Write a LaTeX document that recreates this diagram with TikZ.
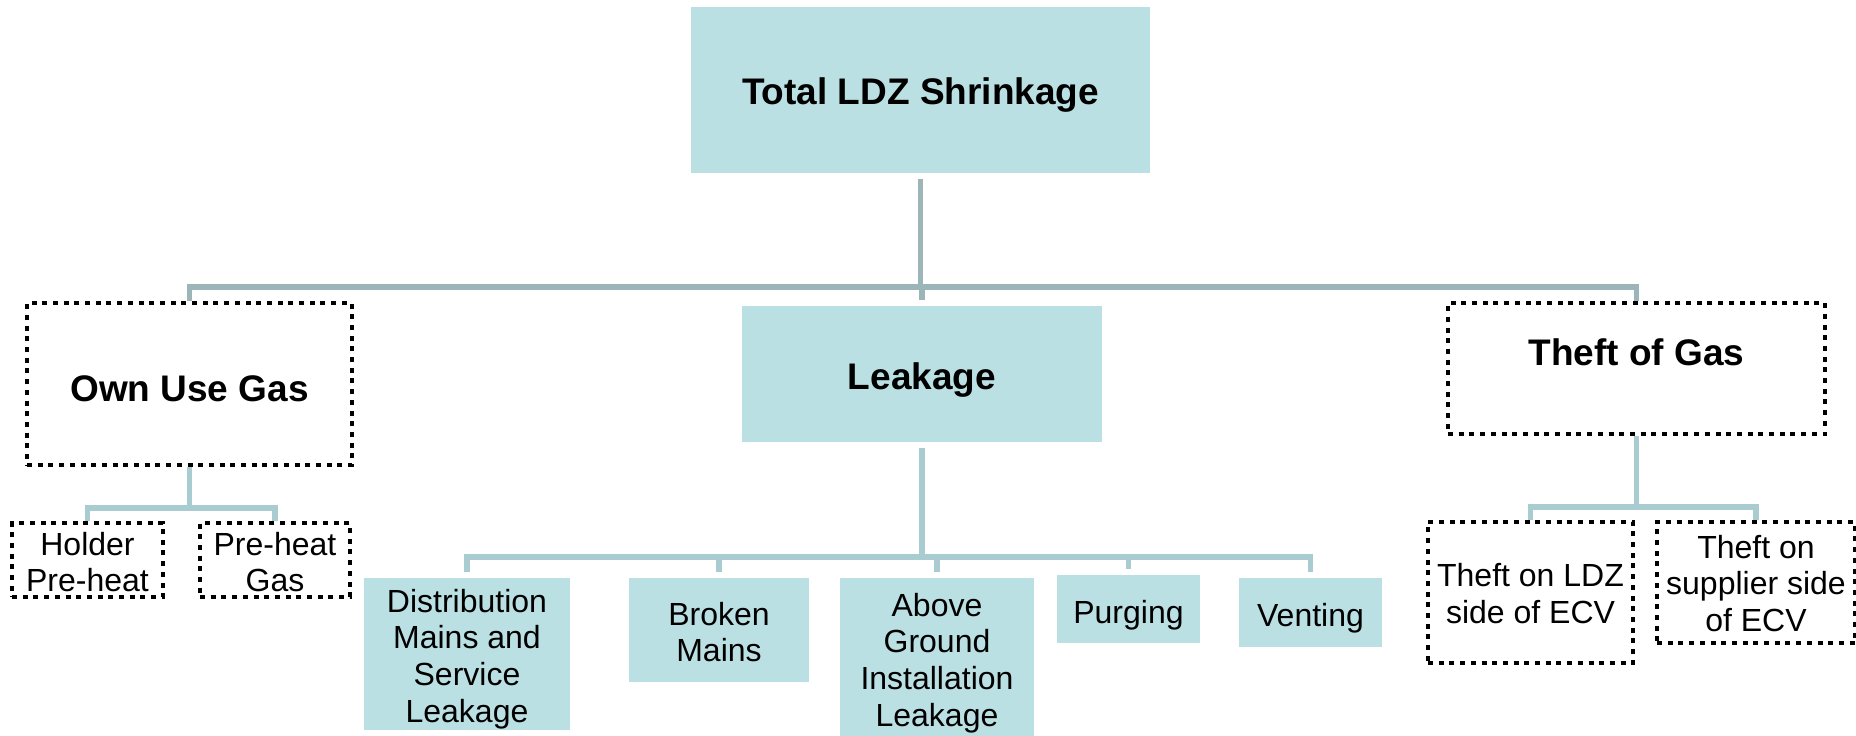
\documentclass[tikz,border=0pt]{standalone}
\usepackage{fontspec}
\setmainfont{Liberation Sans}
\definecolor{boxfill}{RGB}{187,224,227}
\definecolor{topline}{RGB}{155,181,184}
\definecolor{subline}{RGB}{168,204,207}
\tikzset{
  x=1pt, y=-1pt,
  solidbox/.style={draw=none, fill=boxfill, inner sep=0pt},
  dotbox/.style={draw=black, line width=4pt, dash pattern=on 5pt off 5.7pt, fill=white, inner sep=0pt},
  bigtext/.style={font=\fontsize{37}{42}\selectfont\bfseries, inner sep=0pt, align=center},
  smalltext/.style={font=\fontsize{32}{36.8}\selectfont, inner sep=0pt, align=center},
  conntop/.style={draw=topline, line width=5.5pt},
  connsub/.style={draw=subline, line width=5.5pt},
}
\begin{document}
\begin{tikzpicture}
\useasboundingbox (0,0) rectangle (1856,736);
\fill[white] (0,0) rectangle (1856,736);

% boxes
\node[solidbox, minimum width=459pt, minimum height=166pt] (total) at (920.5,90) {};
\node[bigtext] (totalt) at ([yshift=-5pt]total.center) {Total LDZ Shrinkage};
\node[dotbox, minimum width=325pt, minimum height=162pt] (own) at (189.5,384) {};
\node[bigtext] (ownt) at ([yshift=-5pt]own.center) {Own Use Gas};
\node[solidbox, minimum width=360pt, minimum height=136pt] (leak) at (922,374) {};
\node[bigtext] (leakt) at ([yshift=-6pt]leak.center) {Leakage};
\node[dotbox, minimum width=377pt, minimum height=131pt] (theft) at (1636.5,368.5) {};
\node[bigtext] (theftt) at (1636.5,352) {Theft of Gas};

\node[dotbox, minimum width=151pt, minimum height=74pt] (holder) at (87.5,560) {};
\node[smalltext] (holdert) at ([yshift=-2pt]holder.center) {Holder\\Pre-heat};
\node[dotbox, minimum width=150pt, minimum height=74pt] (preheat) at (275,560) {};
\node[smalltext] (preheatt) at ([yshift=-2pt]preheat.center) {Pre-heat\\Gas};

\node[solidbox, minimum width=206pt, minimum height=152pt] (dist) at (467,654) {};
\node[smalltext] (distt) at ([yshift=-5pt]dist.center) {Distribution\\Mains and\\Service\\Leakage};
\node[solidbox, minimum width=180pt, minimum height=104pt] (broken) at (719,630) {};
\node[smalltext] (brokent) at ([yshift=-2pt]broken.center) {Broken\\Mains};
\node[solidbox, minimum width=194pt, minimum height=158pt] (above) at (937,657) {};
\node[smalltext] (abovet) at ([yshift=-6pt]above.center) {Above\\Ground\\Installation\\Leakage};
\node[solidbox, minimum width=143pt, minimum height=68pt] (purging) at (1128.5,609) {};
\node[smalltext] (purgingt) at ([yshift=-6pt]purging.center) {Purging};
\node[solidbox, minimum width=143pt, minimum height=69pt] (venting) at (1310.5,612.5) {};
\node[smalltext] (ventingt) at ([yshift=-6pt]venting.center) {Venting};

\node[dotbox, minimum width=205pt, minimum height=141pt] (ldz) at (1530.5,592.5) {};
\node[smalltext] (ldzt) at ([yshift=-1pt]ldz.center) {Theft on LDZ\\side of ECV};
\node[dotbox, minimum width=198pt, minimum height=121pt] (supplier) at (1756,582.5) {};
\node[smalltext] (suppliert) at ([yshift=-1pt]supplier.center) {Theft on\\supplier side\\of ECV};

% top-level connectors
\coordinate (j0) at (920.5,287);
\draw[conntop] ([yshift=-6pt]total.south) -- (j0);
\draw[conntop] (own.north) |- (j0) -| (theft.north);
\draw[conntop] (j0 -| leak.north) -- ([yshift=6pt]leak.north);

% own use connectors
\coordinate (j1) at (189.5,508);
\draw[connsub] (own.south) -- (j1);
\draw[connsub] (holder.north) |- (j1) -| (preheat.north);

% leakage connectors
\coordinate (j2) at (922,557);
\draw[connsub] ([yshift=-6pt]leak.south) -- (j2);
\draw[connsub] ([yshift=6pt]dist.north) |- (j2) -| ([yshift=6pt]venting.north);
\draw[connsub] (broken.north |- j2) -- ([yshift=6pt]broken.north);
\draw[connsub] (above.north |- j2) -- ([yshift=6pt]above.north);
\draw[connsub] (purging.north |- j2) -- ([yshift=6pt]purging.north);

% theft connectors
\coordinate (j3) at (1636.5,507);
\draw[connsub] (theft.south) -- (j3);
\draw[connsub] (ldz.north) |- (j3) -| (supplier.north);
\end{tikzpicture}
\end{document}
